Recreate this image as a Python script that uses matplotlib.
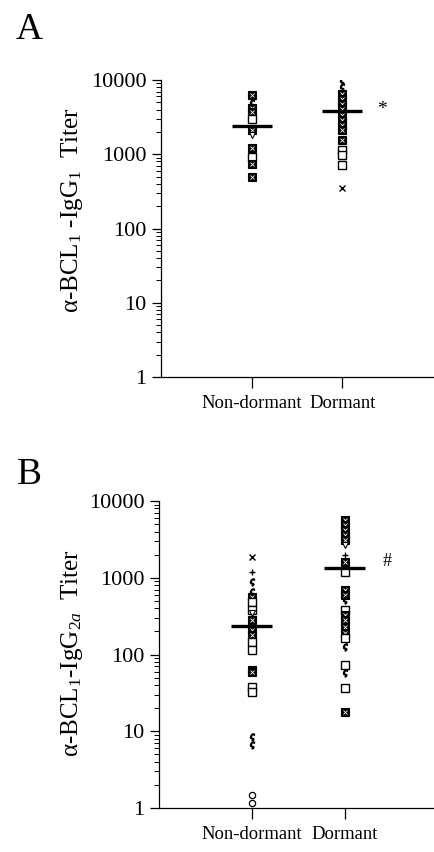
import matplotlib
matplotlib.use("Agg")
import matplotlib.pyplot as plt
from matplotlib.ticker import LogLocator, NullFormatter

plt.rcParams['font.family'] = ['Liberation Serif', 'DejaVu Serif']
plt.rcParams['mathtext.fontset'] = 'custom'
plt.rcParams['mathtext.rm'] = 'Liberation Serif'
plt.rcParams['mathtext.it'] = 'Liberation Serif:italic'

W, H = 434, 852

groups = ["Non-dormant", "Dormant"]
ytick_vals = [1, 10, 100, 1000, 10000]
ytick_labels = ["1", "10", "100", "1000", "10000"]

# panel A: anti-BCL1 IgG1 titers
# kinds: h = hatched square, s = open square, c = hook, d = small diamond, x, +, o
a_nondormant = [6300, 4900, 4200, 3700, 3000, 2100, 1800, 1200, 910, 740, 490]
a_nondormant_kind = ["h", "c", "h", "h", "s", "h", "d", "h", "s", "h", "h"]
a_dormant = [9700, 8100, 6500, 5600, 4800, 4100, 3400, 2900, 2500, 2100, 1540,
             1130, 970, 710, 350]
a_dormant_kind = ["c", "c", "h", "h", "h", "h", "h", "h", "h", "h", "h",
                  "s", "s", "s", "x"]
a_medians = [2400, 3870]

# panel B: anti-BCL1 IgG2a titers
b_nondormant = [1870, 1190, 880, 650, 560, 480, 380, 350, 280, 209, 180, 145,
                114, 63, 59, 38, 32, 8.4, 6.6, 1.48, 1.16]
b_nondormant_kind = ["x", "+", "c", "c", "h", "s", "s", "d", "h", "h", "h", "s",
                     "s", "h", "h", "s", "s", "c", "c", "o", "o"]
b_dormant = [5640, 4900, 4200, 3600, 3100, 2680, 1990, 1600, 1190, 690, 600, 510,
             380, 325, 280, 228, 190, 163, 125, 73, 57, 36.6, 17.8]
b_dormant_kind = ["h", "h", "h", "h", "h", "d", "+", "h", "s", "h", "h", "c",
                  "s", "h", "h", "h", "h", "s", "c", "s", "c", "s", "h"]
b_medians = [235, 1340]


def draw_points(ax, xpos, values, kinds):
    for v, k in zip(values, kinds):
        if k == "h":
            ax.plot(xpos, v, marker="s", ms=5.2, mfc="k", mec="k", mew=0.8, zorder=2)
            ax.plot(xpos, v, marker="x", ms=2.6, color="w", mew=0.6, zorder=2)
        elif k == "s":
            ax.plot(xpos, v, marker="s", ms=5.2, mfc="w", mec="k", mew=1.0, zorder=2)
        elif k == "c":
            ax.plot(xpos, v, marker=r"$\varsigma$", ms=5, color="k", zorder=2)
        elif k == "d":
            ax.plot(xpos, v, marker="v", ms=4, mfc="w", mec="k", mew=0.8, zorder=2)
        elif k == "o":
            ax.plot(xpos, v, marker="o", ms=4.5, mfc="w", mec="k", mew=0.9, zorder=2)
        else:
            ax.plot(xpos, v, marker=k, ms=4.5, color="k", mew=1.0, zorder=2)


def style_axes(ax, xmax):
    ax.set_yscale("log")
    ax.set_ylim(1, 10000)
    ax.set_xlim(0, xmax)
    for s in ["top", "right"]:
        ax.spines[s].set_visible(False)
    for s in ["left", "bottom"]:
        ax.spines[s].set_linewidth(0.9)
    ax.set_yticks(ytick_vals)
    ax.set_yticklabels(ytick_labels, fontsize=16)
    ax.yaxis.set_minor_locator(LogLocator(base=10, subs=range(2, 10)))
    ax.yaxis.set_minor_formatter(NullFormatter())
    ax.tick_params(axis="y", which="major", direction="out", length=6.5, width=0.9, pad=4)
    ax.tick_params(axis="y", which="minor", direction="out", length=3.5, width=0.7)
    ax.set_xticks([1, 2])
    ax.set_xticklabels(groups, fontsize=13.4)
    ax.tick_params(axis="x", direction="out", length=8, width=0.9, pad=5)


def draw_panel(ax, nd, nd_kind, d, d_kind, medians, xmax):
    style_axes(ax, xmax)
    draw_points(ax, 1, nd, nd_kind)
    draw_points(ax, 2, d, d_kind)
    for i, m in enumerate(medians):
        ax.plot([i + 1 - 0.22, i + 1 + 0.22], [m, m], color="k", lw=2.4,
                solid_capstyle="butt", zorder=3)


fig = plt.figure(figsize=(W / 100, H / 100), dpi=100)

axA = fig.add_axes([161 / W, 1 - 377 / H, 272 / W, 297 / H])
draw_panel(axA, a_nondormant, a_nondormant_kind, a_dormant, a_dormant_kind, a_medians, 3.0)

axB = fig.add_axes([159 / W, 1 - 808 / H, 274 / W, 307 / H])
draw_panel(axB, b_nondormant, b_nondormant_kind, b_dormant, b_dormant_kind, b_medians, 2.95)

# panel letters, axis titles and significance marks
fig.text(29 / W, 1 - 30 / H, "A", fontsize=27, ha="center", va="center")
fig.text(29 / W, 1 - 475 / H, "B", fontsize=27, ha="center", va="center")
fig.text(72 / W, 1 - 313 / H, r"α-BCL$_1$ -IgG$_1$  Titer", fontsize=18,
         rotation=90, ha="center", va="bottom")
fig.text(72 / W, 1 - 757 / H, r"α-BCL$_1$-IgG$_{2a}$  Titer", fontsize=18,
         rotation=90, ha="center", va="bottom")
fig.text(382 / W, 1 - 109 / H, "*", fontsize=14, ha="center", va="center")
fig.text(387 / W, 1 - 562 / H, "#", fontsize=13, ha="center", va="center")

fig.savefig("out.png", dpi=100)
